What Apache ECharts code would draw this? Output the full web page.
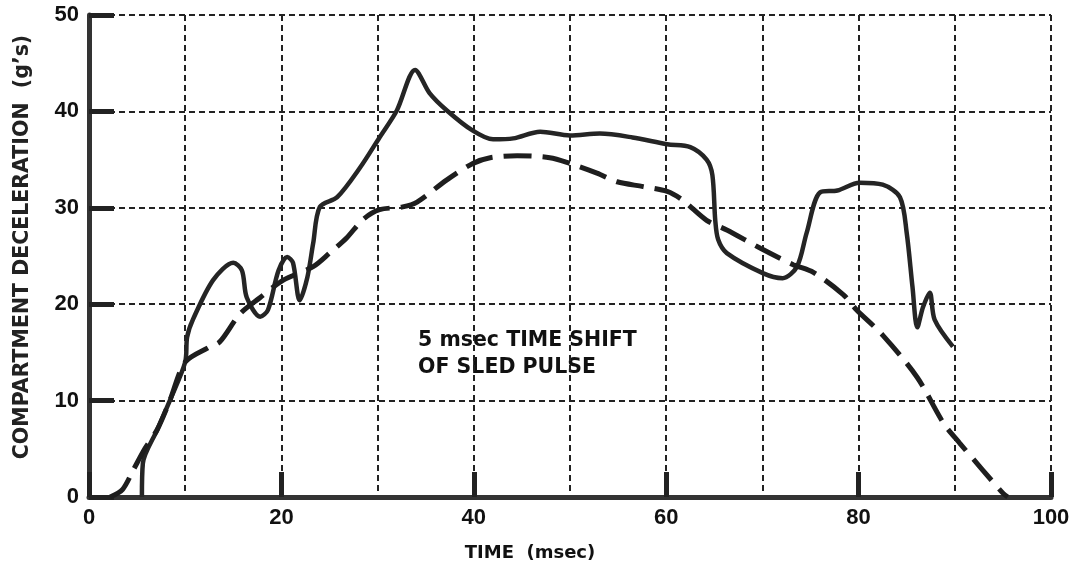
<!DOCTYPE html>
<html>
<head>
<meta charset="utf-8">
<script src="https://cdn.jsdelivr.net/npm/echarts@6/dist/echarts.min.js"></script>
<style>
html,body{margin:0;padding:0;background:#fff;}
#chart{width:1073px;height:577px;}
</style>
</head>
<body>
<div id="chart"></div>
<script>
// 实测舱体减速度（实线）
var compartment = [[5.5,0],[5.6,3.5],[7.1,7],[8.4,10],[10,14],[10.2,16.6],[10.8,18.4],[12.9,22.5],[15,24.3],[15.9,23.5],[16.4,20.7],[17.8,18.7],[18.6,19.4],[19.7,23.5],[20.6,24.9],[21.2,24.3],[21.9,20.4],[22.7,22.8],[23.3,26.3],[24,30.1],[25.8,31.1],[28.2,34.2],[30.2,37.3],[32,40.1],[33.9,44.3],[35.4,41.9],[37.2,40.1],[39.9,38],[42,37.1],[44.1,37.2],[46.9,37.9],[50,37.5],[53.1,37.7],[56.5,37.3],[60.1,36.6],[62.5,36.3],[64.2,35],[64.8,33.4],[65.1,28.7],[65.4,26.7],[66.3,25.3],[70.1,23.2],[72.1,22.7],[73.6,23.9],[74.6,27.4],[76,31.6],[77.8,31.8],[80.1,32.6],[82.5,32.4],[84.3,31.1],[85,27.4],[85.6,21.8],[86.1,17.6],[86.7,19.7],[87.4,21.2],[87.9,18.4],[89.8,15.6]];
// 滑车脉冲 平移5 msec（虚线）
var sledPulse = [[2.2,0],[3.5,0.8],[4.6,2.8],[5.8,5],[7.1,7],[8.4,10],[10,14],[12.4,15.5],[13.6,16.1],[15.7,19],[17.8,20.7],[20.2,22.5],[23.3,23.9],[25,25.3],[26.8,26.9],[28.5,28.8],[30.2,29.8],[32.6,30.1],[34.1,30.6],[37.2,32.9],[39.9,34.6],[41.7,35.2],[44.5,35.4],[47.9,35.2],[50,34.6],[52.8,33.6],[54.9,32.7],[57.6,32.2],[60.1,31.7],[61.7,30.8],[64.2,28.7],[66.3,27.7],[69.8,25.8],[73.2,24.1],[75.3,23.3],[78.4,21],[79.8,19.4],[82.5,16.8],[86.1,12.4],[88.8,7.7],[90.5,5.6],[92.9,2.8],[95,0.4],[95.5,0]];

var xTicks = [0, 20, 40, 60, 80, 100];
var yTicks = [0, 10, 20, 30, 40, 50];

var font = 'Liberation Sans';
var nameFont = 'DejaVu Sans';
var gridDash = {show:true, lineStyle:{color:'#222', width:2, type:[6,4]}};

var myChart = echarts.init(document.getElementById('chart'));
var option = {
    animation:false,
    grid:{left:89, right:22, top:15, bottom:80},
    xAxis:{
        type:'value',
        min:xTicks[0],
        max:xTicks[xTicks.length-1],
        interval:20,
        name:'TIME  (msec)',
        nameLocation:'middle',
        nameGap:47,
        nameTextStyle:{fontFamily:nameFont, fontWeight:'bold', fontSize:18, color:'#111', padding:[0,80,0,0]},
        axisLine:{show:true, lineStyle:{color:'#333', width:5}},
        axisTick:{show:true, inside:true, length:25, lineStyle:{color:'#222', width:5}},
        axisLabel:{fontFamily:font, fontWeight:'bold', fontSize:22, color:'#111', margin:10},
        splitLine:gridDash,
        minorTick:{show:false, splitNumber:2},
        minorSplitLine:gridDash
    },
    yAxis:{
        type:'value',
        min:yTicks[0],
        max:yTicks[yTicks.length-1],
        interval:10,
        name:'COMPARTMENT DECELERATION  (g\u2019s)',
        nameLocation:'middle',
        nameGap:56,
        nameTextStyle:{fontFamily:nameFont, fontWeight:'bold', fontSize:20.5, color:'#222', padding:[0,0,0,18]},
        axisLine:{show:true, lineStyle:{color:'#333', width:5}},
        axisTick:{show:true, inside:true, length:25, lineStyle:{color:'#222', width:5}},
        axisLabel:{fontFamily:font, fontWeight:'bold', fontSize:22, color:'#111', margin:10},
        splitLine:gridDash
    },
    graphic:[{
        type:'text',
        left:418,
        top:327,
        style:{
            text:'5 msec TIME SHIFT\nOF SLED PULSE',
            font:'bold 20.5px "DejaVu Sans"',
            fill:'#111',
            lineHeight:27
        }
    }],
    series:[
        {
            name:'compartment',
            type:'line',
            data:compartment,
            smooth:0.3,
            showSymbol:false,
            lineStyle:{color:'#252525', width:4.5}
        },
        {
            name:'sled',
            type:'line',
            data:sledPulse,
            smooth:0.3,
            showSymbol:false,
            lineStyle:{color:'#1e1e1e', width:5, type:[28,11]}
        }
    ]
};
myChart.setOption(option);
</script>
</body>
</html>
